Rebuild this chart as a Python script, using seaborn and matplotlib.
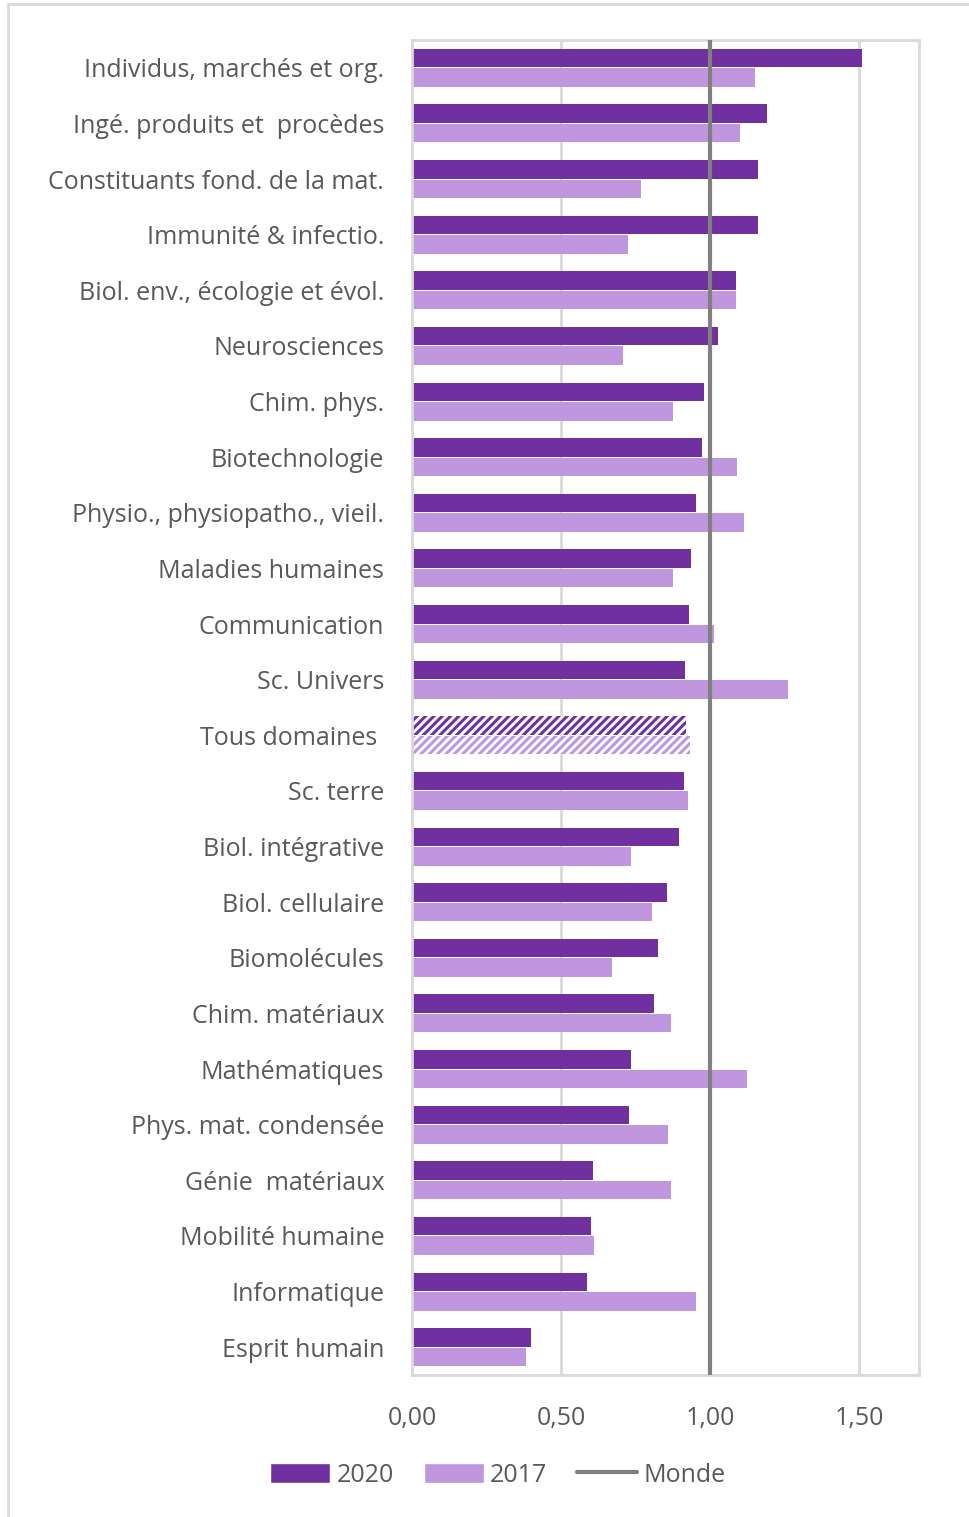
import pandas as pd
import matplotlib.pyplot as plt
import seaborn as sns
from matplotlib.lines import Line2D
from matplotlib.patches import Patch, Rectangle

plt.switch_backend('Agg')

# Data
categories = [
    "Individus, marchés et org.", "Ingé. produits et  procèdes",
    "Constituants fond. de la mat.", "Immunité & infectio.",
    "Biol. env., écologie et évol.", "Neurosciences", "Chim. phys.",
    "Biotechnologie", "Physio., physiopatho., vieil.", "Maladies humaines",
    "Communication", "Sc. Univers", "Tous domaines ", "Sc. terre",
    "Biol. intégrative", "Biol. cellulaire", "Biomolécules",
    "Chim. matériaux", "Mathématiques", "Phys. mat. condensée",
    "Génie  matériaux", "Mobilité humaine", "Informatique", "Esprit humain",
]
values_2020 = [1.51, 1.19, 1.16, 1.16, 1.085, 1.025, 0.98, 0.972, 0.952, 0.935,
               0.93, 0.915, 0.918, 0.912, 0.895, 0.855, 0.825, 0.81, 0.735,
               0.728, 0.607, 0.60, 0.586, 0.40]
values_2017 = [1.15, 1.10, 0.768, 0.725, 1.085, 0.708, 0.876, 1.09, 1.113, 0.876,
               1.013, 1.262, 0.932, 0.926, 0.735, 0.805, 0.671, 0.869, 1.124,
               0.859, 0.869, 0.611, 0.953, 0.383]
years = ["2020", "2017"]
monde = 1.0
x_ticks = [0.0, 0.5, 1.0, 1.5]

c2020 = "#7030A0"
c2017 = "#C096DE"
grey_txt = "#595959"
grid_c = "#D9D9D9"

df = pd.DataFrame({
    "domaine": categories * 2,
    "valeur": values_2020 + values_2017,
    "annee": [years[0]] * len(categories) + [years[1]] * len(categories),
})

sns.set_style("white")
plt.rcParams['font.family'] = ['Open Sans', 'DejaVu Sans']
plt.rcParams['hatch.linewidth'] = 2.2

fig = plt.figure(figsize=(9.69, 15.17), dpi=100)
ax = fig.add_axes([412 / 969, 1 - 1375 / 1517, (919 - 412) / 969, (1375 - 40) / 1517])

sns.barplot(data=df, y="domaine", x="valeur", hue="annee", order=categories,
            hue_order=years, palette=[c2020, c2017], orient="h", width=0.7,
            gap=0.05, ax=ax, legend=False, saturation=1, linewidth=0)

# hatch the "Tous domaines" bars
idx = categories.index("Tous domaines ")
for p in ax.patches:
    cy = p.get_y() + p.get_height() / 2
    if abs(cy - idx) < 0.5:
        col = p.get_facecolor()
        p.set_facecolor("white")
        p.set_edgecolor(col)
        p.set_hatch("////")
        p.set_linewidth(0)

ax.axvline(monde, color="#808080", lw=3, zorder=5)

ax.set_xlim(0, 1.70)
ax.set_ylim(len(categories) - 0.5, -0.5)
ax.set_xticks(x_ticks)
ax.set_xticklabels([f"{t:.2f}".replace(".", ",") for t in x_ticks])
ax.xaxis.grid(True, color=grid_c, lw=2)
ax.set_axisbelow(True)
for s in ax.spines.values():
    s.set_color(grid_c)
    s.set_linewidth(2)
ax.set_xlabel("")
ax.set_ylabel("")
ax.tick_params(axis="both", length=0, labelsize=18, labelcolor=grey_txt)
ax.tick_params(axis="y", pad=20)
ax.tick_params(axis="x", pad=22)

handles = [Patch(facecolor=c2020, label="2020"),
           Patch(facecolor=c2017, label="2017"),
           Line2D([], [], color="#808080", lw=3, label="Monde")]
leg = fig.legend(handles=handles, loc="center", bbox_to_anchor=(498 / 969, 1 - 1475 / 1517),
                 ncol=3, frameon=False, fontsize=18, handlelength=2.4, handleheight=0.85,
                 handletextpad=0.25, columnspacing=1.2, labelcolor=grey_txt)

# outer frame (cropped in the reference)
fig.patches.append(Rectangle((8 / 969, -0.1), 1.2, 1.1 - 4 / 1517, transform=fig.transFigure,
                             fill=False, edgecolor=grid_c, lw=2))

fig.savefig("out.png", dpi=100)
plt.close(fig)
